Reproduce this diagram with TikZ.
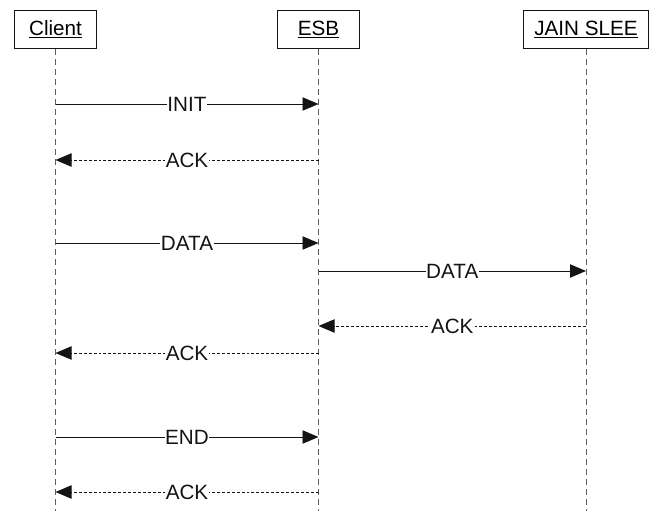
\documentclass[tikz,border=0pt]{standalone}
\usepackage{fontspec}
\setmainfont{Liberation Sans}
\usepackage{tikz}
\usetikzlibrary{arrows.meta}
\definecolor{primary}{RGB}{20, 20, 20}
\definecolor{lifeline}{RGB}{95, 95, 95}

\tikzset{
  actor/.style={draw=primary,line width=0.7pt,fill=white,minimum height=29pt,inner sep=0pt,font=\fontsize{15.5}{18}\selectfont},
  life/.style={lifeline,line width=0.6pt,dash pattern=on 4.5pt off 3pt},
  call/.style={primary,line width=0.7pt,-{Triangle[length=12pt,width=10pt]}},
  reply/.style={call,dash pattern=on 2.2pt off 1.5pt},
  msg/.style={fill=white,inner sep=0.5pt,font=\fontsize{15.5}{18}\selectfont}
}

\begin{document}
\begin{tikzpicture}[x=0.75pt,y=-0.75pt]
\useasboundingbox (0,0) rectangle (653,511);
% participants
\node[actor,minimum width=62pt] (client) at (55.5,29.5) {\underline{Client}};
\node[actor,minimum width=62pt] (esb) at (318.5,29.5) {\underline{ESB}};
\node[actor,minimum width=94pt] (slee) at (586,29.5) {\underline{JAIN SLEE}};
% lifelines
\coordinate (clientEnd) at (client.south |- 0,511);
\coordinate (esbEnd) at (esb.south |- 0,511);
\coordinate (sleeEnd) at (slee.south |- 0,511);
\draw[life] (client.south) -- (clientEnd);
\draw[life] (esb.south) -- (esbEnd);
\draw[life] (slee.south) -- (sleeEnd);
% message ends
\coordinate (c1) at (client.south |- 0,104);
\coordinate (e1) at (esb.south |- 0,104);
\coordinate (c2) at (client.south |- 0,160);
\coordinate (e2) at (esb.south |- 0,160);
\coordinate (c3) at (client.south |- 0,243);
\coordinate (e3) at (esb.south |- 0,243);
\coordinate (e4) at (esb.south |- 0,271);
\coordinate (s4) at (slee.south |- 0,271);
\coordinate (e5) at (esb.south |- 0,326);
\coordinate (s5) at (slee.south |- 0,326);
\coordinate (c6) at (client.south |- 0,353);
\coordinate (e6) at (esb.south |- 0,353);
\coordinate (c7) at (client.south |- 0,437);
\coordinate (e7) at (esb.south |- 0,437);
\coordinate (c8) at (client.south |- 0,492);
\coordinate (e8) at (esb.south |- 0,492);
% messages
\draw[call] (c1) -- node[msg]{INIT} (e1);
\draw[reply] (e2) -- node[msg]{ACK} (c2);
\draw[call] (c3) -- node[msg]{DATA} (e3);
\draw[call] (e4) -- node[msg]{DATA} (s4);
\draw[reply] (s5) -- node[msg]{ACK} (e5);
\draw[reply] (e6) -- node[msg]{ACK} (c6);
\draw[call] (c7) -- node[msg]{END} (e7);
\draw[reply] (e8) -- node[msg]{ACK} (c8);
\end{tikzpicture}
\end{document}
